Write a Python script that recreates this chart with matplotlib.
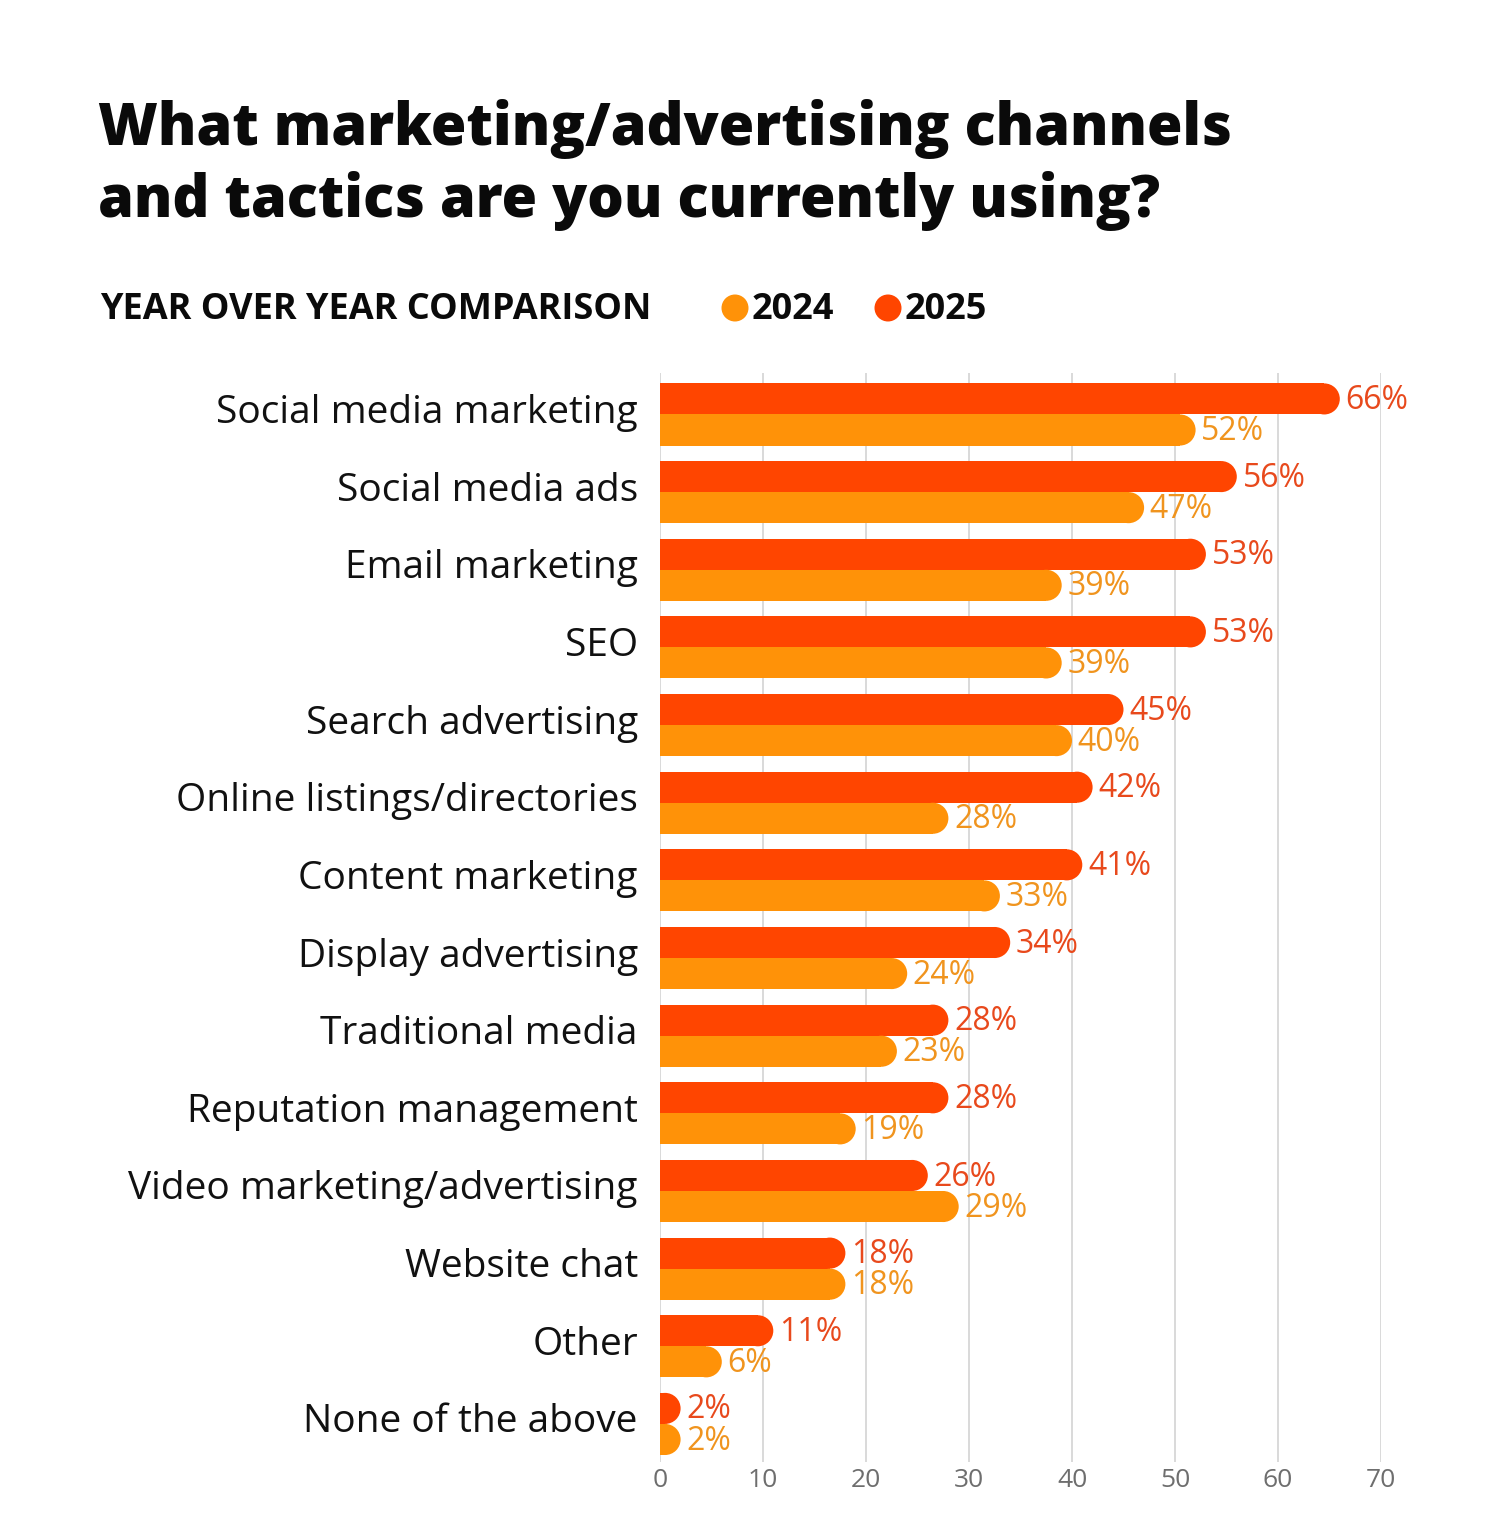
import matplotlib
matplotlib.use("Agg")
import matplotlib.pyplot as plt
import matplotlib.transforms as mtransforms
from matplotlib.patches import Ellipse
import numpy as np

plt.rcParams['font.family'] = ['Open Sans', 'DejaVu Sans']

categories = ["Social media marketing", "Social media ads", "Email marketing", "SEO",
              "Search advertising", "Online listings/directories", "Content marketing",
              "Display advertising", "Traditional media", "Reputation management",
              "Video marketing/advertising", "Website chat", "Other", "None of the above"]
values_2025 = [66, 56, 53, 53, 45, 42, 41, 34, 28, 28, 26, 18, 11, 2]
values_2024 = [52, 47, 39, 39, 40, 28, 33, 24, 23, 19, 29, 18, 6, 2]
series_labels = ["2024", "2025"]
xticks = [0, 10, 20, 30, 40, 50, 60, 70]

C25 = "#FF4500"
C24 = "#FF9208"
T25 = "#E8491C"
T24 = "#F0941E"

W, H = 1500, 1533
fig = plt.figure(figsize=(W / 100, H / 100), dpi=100)
ax_l, ax_r, ax_t, ax_b = 660, 1381, 373, 1462
ax = fig.add_axes([ax_l / W, 1 - ax_b / H, (ax_r - ax_l) / W, (ax_b - ax_t) / H])
xmax = 70
ymin, ymax = -0.534, 13.49
ax.set_xlim(0, xmax)
ax.set_ylim(ymax, ymin)

h = 0.4
px_x = (ax_r - ax_l) / xmax
px_y = (ax_b - ax_t) / (ymax - ymin)
rx = (h / 2) * px_y / px_x

y = np.arange(len(categories))
for vals, off, col, tcol in [(values_2025, -0.2, C25, T25), (values_2024, 0.2, C24, T24)]:
    for yi, v in zip(y, vals):
        yc = yi + off
        ax.barh(yc, max(v - rx, 0), height=h, left=0, color=col, edgecolor='none', zorder=3)
        e = Ellipse((v - rx, yc), width=2 * rx, height=h, facecolor=col, edgecolor='none', zorder=3)
        ax.add_patch(e)
        ax.text(v + 0.55, yc + 0.02, f"{v}%", color=tcol, fontsize=23, va='center', ha='left',
                zorder=4, clip_on=False)

ax.set_xticks(xticks)
ax.set_xticklabels([str(t) for t in xticks], color="#6e6e6e", fontsize=19)
ax.tick_params(axis='x', length=0, pad=4)
ax.set_yticks(y)
ax.set_yticklabels(categories, fontsize=28, color="#111111")
ax.tick_params(axis='y', length=0, pad=16)
shift = mtransforms.ScaledTranslation(0, 6 / 100, fig.dpi_scale_trans)
for lab in ax.get_yticklabels():
    lab.set_transform(lab.get_transform() + shift)
ax.grid(axis='x', color="#cfcfcf", linewidth=1.1, zorder=0)
ax.set_axisbelow(True)
for s in ax.spines.values():
    s.set_visible(False)

# Title
fig.text(98 / W, 1 - 145 / H, "What marketing/advertising channels", fontsize=41.5,
         fontweight='heavy', color='#0a0a0a', ha='left', va='baseline')
fig.text(98 / W, 1 - 217 / H, "and tactics are you currently using?", fontsize=41.5,
         fontweight='heavy', color='#0a0a0a', ha='left', va='baseline')

# Legend header
fig.text(100 / W, 1 - 319 / H, "YEAR OVER YEAR COMPARISON", fontsize=26,
         fontweight='bold', color='#0a0a0a', ha='left', va='baseline')
for cx, col, lab in [(735, C24, series_labels[0]), (888, C25, series_labels[1])]:
    fig.patches.append(Ellipse((cx / W, 1 - 308 / H), width=27 / W, height=27 / H,
                               transform=fig.transFigure, facecolor=col, edgecolor='none'))
    fig.text((cx + 17) / W, 1 - 319 / H, lab, fontsize=26, fontweight='bold',
             color='#0a0a0a', ha='left', va='baseline')

fig.savefig("out.png", dpi=100, facecolor='white')
